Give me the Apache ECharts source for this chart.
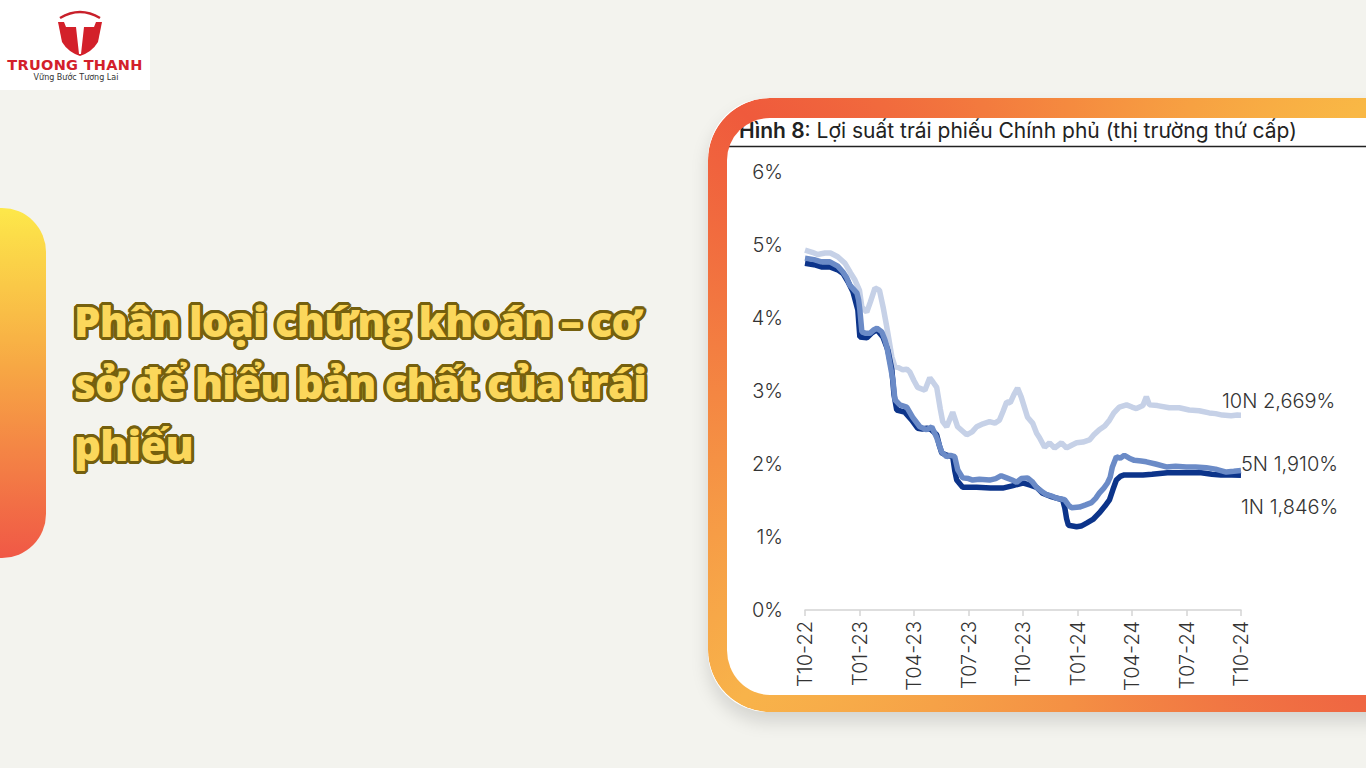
<!DOCTYPE html>
<html>
<head>
<meta charset="utf-8">
<script src="https://cdn.jsdelivr.net/npm/echarts@6/dist/echarts.min.js"></script>
<style>
  html,body{margin:0;padding:0;width:1366px;height:768px;overflow:hidden;background:#f3f3ee;font-family:Inter,"Noto Sans",sans-serif;}
  .logo{position:absolute;left:0;top:0;width:150px;height:90px;background:#ffffff;}
  .logo .brand{position:absolute;left:0;width:150px;top:57px;text-align:center;font-family:"DejaVu Sans",sans-serif;font-weight:bold;font-size:14.5px;color:#d3202a;letter-spacing:0.3px;}
  .logo .slogan{position:absolute;left:0;width:152px;top:73px;text-align:center;font-family:"DejaVu Sans",sans-serif;font-size:8px;color:#333;}
  .bar{position:absolute;left:-60px;top:208px;width:106px;height:350px;border-radius:0 44px 44px 0;background:linear-gradient(180deg,#fde84a 0%,#f7a844 45%,#f05846 100%);}
  .headline{position:absolute;left:74px;top:290px;width:660px;font-family:"Open Sans",Lato,sans-serif;font-weight:800;font-size:42px;line-height:62px;letter-spacing:-0.8px;word-spacing:-1px;color:#fbd75b;
    text-shadow:3px 0 0 #75600e,-3px 0 0 #75600e,0 3px 0 #75600e,0 -3px 0 #75600e,2px 2px 0 #75600e,-2px 2px 0 #75600e,2px -2px 0 #75600e,-2px -2px 0 #75600e,3px 1px 0 #75600e,-3px 1px 0 #75600e,3px -1px 0 #75600e,-3px -1px 0 #75600e,1px 3px 0 #75600e,-1px 3px 0 #75600e,1px -3px 0 #75600e,-1px -3px 0 #75600e;}
  .panel{position:absolute;left:708px;top:98px;width:720px;height:614px;border-radius:60px;background:#ffffff;box-shadow:0 10px 18px rgba(0,0,0,0.13);}
  #chart{position:absolute;left:0;top:0;width:1366px;height:768px;}
  .ring{position:absolute;left:708px;top:98px;width:720px;height:614px;box-sizing:border-box;border-radius:62px;padding:20px 19px 17px 19px;
    background:conic-gradient(from 0deg at 50% 50%,#f58a3f 0deg,#f9b845 45deg,#f38a44 90deg,#ef6642 135deg,#f49044 180deg,#f8b34a 228deg,#f48642 272deg,#ef5a3c 312deg,#f58a3f 360deg);
    -webkit-mask:linear-gradient(#000 0 0) content-box,linear-gradient(#000 0 0);-webkit-mask-composite:xor;mask-composite:exclude;pointer-events:none;}
</style>
</head>
<body>
<div class="logo">
  <svg width="150" height="60" style="position:absolute;left:0;top:0">
    <path d="M60 18 Q80 6 100 18" fill="none" stroke="#c8202a" stroke-width="2.5"/>
    <path d="M58 22 L102 22 L98 42 Q92 52 80 56 Q68 52 62 42 Z" fill="#d3202a"/>
    <path d="M64 22 L96 22 L94 27 L84 27 L81 54 L79 54 L76 27 L66 27 Z" fill="#ffffff"/>
  </svg>
  <div class="brand">TRUONG THANH</div>
  <div class="slogan">Vững Bước Tương Lai</div>
</div>
<div class="bar"></div>
<div class="headline">Phân loại chứng khoán – cơ<br>sở để hiểu bản chất của trái<br>phiếu</div>
<div class="panel"></div>
<div id="chart"></div>
<div class="ring"></div>
<script>
// Tick labels (quarters), x positions are month indexes from T10-22
const xTickLabels = ['T10-22','T01-23','T04-23','T07-23','T10-23','T01-24','T04-24','T07-24','T10-24'];
const yTickLabels = ['0%','1%','2%','3%','4%','5%','6%'];
const seriesNames = ['10N','5N','1N'];
const chartTitle = 'Hình 8';
const chartSubtitle = ': Lợi suất trái phiếu Chính phủ (thị trường thứ cấp)';

// [month index, yield %]
const yield10Y = [
  [0,4.93],[0.4,4.90],[0.7,4.87],[1.1,4.89],[1.4,4.89],[1.8,4.84],[2.2,4.75],[2.5,4.62],[2.75,4.52],[3.0,4.38],[3.13,4.15],[3.4,4.08],
  [3.6,4.22],[3.85,4.41],[4.1,4.38],[4.3,4.15],[4.5,3.88],[4.78,3.47],[4.95,3.33],[5.15,3.32],[5.38,3.29],[5.6,3.30],[5.77,3.26],
  [6.0,3.14],[6.2,3.05],[6.6,3.01],[6.87,3.18],[7.05,3.12],[7.25,3.05],[7.45,2.75],[7.58,2.58],[7.8,2.51],[8.13,2.71],[8.4,2.51],
  [8.9,2.40],[9.2,2.44],[9.45,2.51],[9.8,2.55],[10.16,2.58],[10.45,2.56],[10.7,2.60],[10.9,2.72],[11.1,2.85],[11.3,2.84],[11.5,2.95],
  [11.7,3.04],[11.9,2.92],[12.05,2.80],[12.25,2.64],[12.53,2.56],[12.75,2.42],[12.91,2.36],[13.19,2.23],[13.46,2.29],[13.74,2.22],
  [14.12,2.29],[14.4,2.22],[14.7,2.26],[14.95,2.29],[15.3,2.30],[15.66,2.33],[15.9,2.40],[16.2,2.47],[16.5,2.52],[16.76,2.60],
  [17.0,2.70],[17.3,2.78],[17.7,2.81],[18.0,2.78],[18.24,2.76],[18.6,2.80],[18.79,2.92],[18.96,2.81],[19.4,2.80],[20.05,2.77],
  [20.6,2.77],[21.15,2.74],[21.7,2.73],[22.25,2.70],[22.6,2.69],[22.97,2.67],[23.46,2.66],[23.8,2.67],[24,2.669]
];
const yield5Y = [
  [0,4.82],[0.5,4.80],[0.9,4.77],[1.37,4.77],[1.8,4.71],[2.09,4.63],[2.3,4.55],[2.47,4.45],[2.86,4.34],[2.95,4.25],[3.02,4.11],
  [3.13,3.81],[3.35,3.79],[3.57,3.79],[3.8,3.84],[3.96,3.86],[4.23,3.81],[4.4,3.70],[4.51,3.60],[4.67,3.38],[4.84,3.15],[4.95,2.88],
  [5.22,2.81],[5.6,2.78],[5.93,2.64],[6.32,2.51],[6.7,2.47],[6.98,2.51],[7.25,2.36],[7.53,2.16],[7.8,2.10],[8.0,2.12],[8.24,2.10],
  [8.41,1.92],[8.68,1.81],[9.0,1.80],[9.23,1.78],[9.6,1.79],[10.16,1.78],[10.5,1.80],[10.8,1.84],[11.1,1.81],[11.4,1.78],
  [11.65,1.75],[11.9,1.80],[12.25,1.81],[12.5,1.76],[12.75,1.68],[13.0,1.63],[13.3,1.58],[13.6,1.56],[13.85,1.53],[14.1,1.52],
  [14.29,1.51],[14.5,1.44],[14.67,1.40],[15.11,1.41],[15.45,1.44],[15.77,1.47],[16.0,1.53],[16.2,1.60],[16.45,1.67],[16.65,1.74],
  [16.8,1.82],[16.92,1.96],[17.14,2.10],[17.35,2.08],[17.58,2.12],[17.85,2.08],[18.13,2.05],[18.5,2.04],[18.79,2.03],[19.3,2.00],
  [19.89,1.96],[20.4,1.97],[20.99,1.96],[21.5,1.96],[22.09,1.95],[22.6,1.93],[23.19,1.89],[23.6,1.90],[24,1.910]
];
const yield1Y = [
  [0,4.75],[0.5,4.73],[0.9,4.70],[1.37,4.70],[1.8,4.66],[2.09,4.61],[2.4,4.48],[2.64,4.36],[2.91,4.11],[3.02,3.74],[3.41,3.73],
  [3.7,3.80],[3.96,3.84],[4.29,3.74],[4.56,3.56],[4.78,3.29],[4.9,2.95],[5.05,2.74],[5.49,2.71],[5.88,2.60],[6.2,2.49],[6.45,2.48],
  [6.7,2.49],[6.95,2.47],[7.25,2.40],[7.4,2.25],[7.53,2.15],[7.8,2.12],[8.13,2.10],[8.25,1.90],[8.35,1.78],[8.68,1.68],[9.0,1.68],
  [9.45,1.68],[10.2,1.67],[10.88,1.67],[11.4,1.70],[11.98,1.74],[12.4,1.71],[12.75,1.68],[13.08,1.60],[13.6,1.55],[14.18,1.51],
  [14.3,1.40],[14.4,1.25],[14.5,1.16],[14.95,1.14],[15.2,1.15],[15.5,1.19],[15.85,1.24],[16.2,1.33],[16.5,1.42],[16.76,1.51],
  [16.95,1.65],[17.14,1.78],[17.35,1.83],[17.58,1.85],[18.19,1.85],[18.6,1.85],[19.1,1.86],[19.95,1.88],[20.9,1.88],[21.81,1.88],
  [22.4,1.86],[22.9,1.85],[23.5,1.85],[24,1.846]
];

const chart = echarts.init(document.getElementById('chart'), null, {renderer:'svg'});
const fontFam = 'Inter, "Noto Sans", sans-serif';
function endLabel(offset){
  return {show:true, distance:0, offset:offset, color:'#333333', fontSize:20, fontFamily:fontFam, fontWeight:300,
    formatter:p => p.seriesName + ' ' + p.value[1].toFixed(3).replace('.', ',') + '%'};
}
chart.setOption({
  animation:false,
  backgroundColor:'transparent',
  title:{
    text:'{b|' + chartTitle + '}{n|' + chartSubtitle + '}',
    left:734, top:115,
    textStyle:{rich:{
      b:{fontFamily:fontFam, fontSize:21, fontWeight:600, color:'#222'},
      n:{fontFamily:fontFam, fontSize:21, fontWeight:400, color:'#222'}
    }}
  },
  graphic:[{type:'line', shape:{x1:715, y1:146.5, x2:1366, y2:146.5}, style:{stroke:'#222', lineWidth:1.5}, silent:true}],
  grid:{left:805, right:125, top:172, bottom:158, containLabel:false},
  xAxis:{
    type:'value', min:0, max:24, interval:3,
    axisLine:{show:true, lineStyle:{color:'#d4d4d4', width:1.5}},
    axisTick:{show:true, length:6, lineStyle:{color:'#d4d4d4', width:1.5}},
    splitLine:{show:false},
    axisLabel:{rotate:90, margin:11, color:'#333', fontSize:20, fontFamily:fontFam, fontWeight:300,
      formatter:v => xTickLabels[Math.round(v/3)]}
  },
  yAxis:{
    type:'value', min:0, max:6, interval:1,
    axisLine:{show:false}, axisTick:{show:false}, splitLine:{show:false},
    axisLabel:{margin:22, color:'#333', fontSize:20, fontFamily:fontFam, fontWeight:300,
      formatter:v => yTickLabels[Math.round(v)]}
  },
  series:[
    {name:seriesNames[0], type:'line', data:yield10Y, showSymbol:false, symbol:'none',
      lineStyle:{color:'#c6d1e7', width:5.5}, endLabel:endLabel([-19,-14]), z:2},
    {name:seriesNames[2], type:'line', data:yield1Y, showSymbol:false, symbol:'none',
      lineStyle:{color:'#0c348a', width:5.5}, endLabel:endLabel([0,32]), z:3},
    {name:seriesNames[1], type:'line', data:yield5Y, showSymbol:false, symbol:'none',
      lineStyle:{color:'#6b8bc7', width:5.5}, endLabel:endLabel([0,-7]), z:4}
  ]
});
</script>
</body>
</html>
